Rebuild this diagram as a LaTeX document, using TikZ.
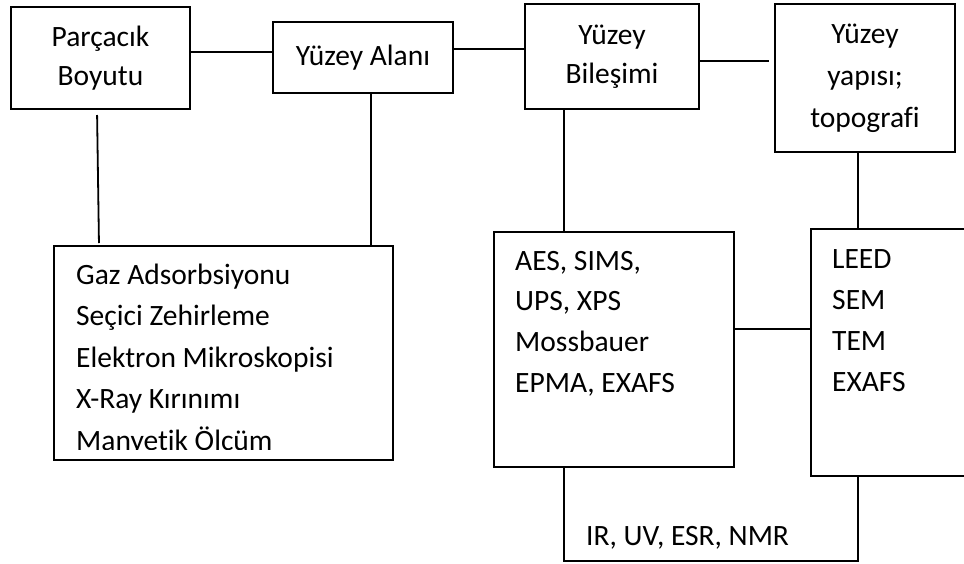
\documentclass[tikz,border=0pt]{standalone}
\usepackage{fontspec}
\setmainfont{Carlito}[Ligatures=NoCommon]
\begin{document}
\begin{tikzpicture}[
    x=1pt, y=-1pt,
    box/.style={draw, line width=1.8pt, align=center, inner sep=0pt, outer sep=0pt, font=\fontsize{29.5}{39}\selectfont},
    frame/.style={draw, line width=1.8pt, inner sep=0pt, outer sep=0pt},
    item/.style={anchor=base west, inner sep=0pt, font=\fontsize{29.5}{40}\selectfont},
    link/.style={line width=1.8pt},
  ]
    \clip (0,0) rectangle (964,563);
    \fill[white] (0,0) rectangle (964,563);

    % --- top row ---
    \node[box, minimum width=179pt, minimum height=102pt] (pb) at (100.5,58) {Parçacık\\Boyutu};
    \node[box, minimum width=180pt, minimum height=71pt]  (ya) at (363,57.5) {Yüzey Alanı};
    \node[box, minimum width=174pt, minimum height=105pt] (yb) at (612,56.5) {Yüzey\\Bileşimi};
    \node[box, minimum width=180pt, minimum height=148pt] (yy) at (865,78) {Yüzey\\[3pt]yapısı;\\[3pt]topografi};

    % --- method boxes ---
    \node[frame, minimum width=339pt, minimum height=214pt] (gaz) at (223.5,353) {};
    \node[frame, minimum width=240pt, minimum height=235pt] (aes) at (614,349.5) {};
    \node[frame, minimum width=180pt, minimum height=247pt] (leed) at (901,352.5) {};

    % lists
    \begin{scope}
      \clip (gaz.north west) rectangle ([yshift=11pt]gaz.south east);
      \foreach \t [count=\i] in {Gaz Adsorbsiyonu, Seçici Zehirleme, Elektron Mikroskopisi, X-Ray Kırınımı, Manyetik Ölçüm}
        \node[item] (gaz\i) at (76,{284+41.5*(\i-1)}) {\t};
    \end{scope}
    \foreach \t [count=\i] in {{AES, SIMS,}, {UPS, XPS}, Mossbauer, {EPMA, EXAFS}}
      \node[item] (aes\i) at (515,{270+40.7*(\i-1)}) {\t};
    \foreach \t [count=\i] in {LEED, SEM, TEM, EXAFS}
      \node[item] (leed\i) at (832,{268+41.3*(\i-1)}) {\t};
    \node[item] (irlbl) at (586,545) {IR, UV, ESR, NMR};

    % --- connectors ---
    \draw[link] ([yshift=6pt]pb.east) -- ([yshift=6pt]pb.east -| ya.west);
    \draw[link] ([yshift=8.5pt]ya.east) -- ([yshift=8.5pt]ya.east -| yb.west);
    \draw[link, shorten >=6pt] ([yshift=-4.5pt]yb.east) -- ([yshift=-4.5pt]yb.east -| yy.west);
    \draw[link, shorten <=6pt, shorten >=3pt] ([xshift=-3.5pt]pb.south) -- ([xshift=-1.5pt]pb.south |- gaz.north);
    \draw[link] ([xshift=8pt]ya.south) -- ([xshift=8pt]ya.south |- gaz.north);
    \draw[link] ([xshift=-48pt]yb.south) -- ([xshift=-48pt]yb.south |- aes.north);
    \draw[link] ([xshift=-7pt]yy.south) -- ([xshift=-7pt]yy.south |- leed.north);
    \draw[link] ([yshift=20.5pt]aes.east) -- ([yshift=20.5pt]aes.east -| leed.west);
    \draw[link] ([xshift=-50pt]aes.south) -- ++(0,94) -| ([xshift=-43pt]leed.south);
  \end{tikzpicture}
\end{document}
